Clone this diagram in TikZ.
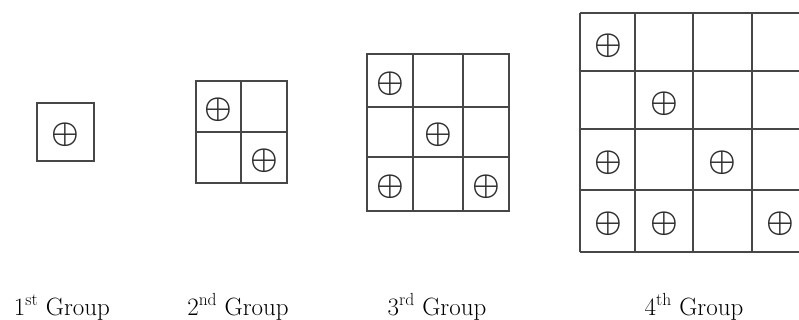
\documentclass[tikz,border=0pt]{standalone}
\usepackage{fontspec}
\usepackage{graphicx}
\begin{document}
\begin{tikzpicture}[x=1pt,y=-1pt,
  gridline/.style={draw=black!72,line width=1.1pt},
  opl/.style={inner sep=0pt,text=black!82},
  grouplabel/.style={anchor=base,inner sep=0pt,font=\fontsize{25}{30}\selectfont}]
\useasboundingbox (0,0) rectangle (799,320);
\newcommand{\opsym}{\scalebox{3.1}{\boldmath$\oplus$}}
% Group 1
\draw[gridline] (37,103) rectangle (94,161);
\node[opl] (g1a) at (65.5,135) {\opsym};
% Group 2
\draw[gridline] (196,81) rectangle (287,183);
\draw[gridline] (241,81) -- (241,183);
\draw[gridline] (196,132) -- (287,132);
\node[opl] (g2a) at (218.5,109.5) {\opsym};
\node[opl] (g2b) at (264,160.5) {\opsym};
% Group 3
\draw[gridline] (367,54) rectangle (509,211);
\foreach \x in {413,463} \draw[gridline] (\x,54) -- (\x,211);
\foreach \y in {107,157} \draw[gridline] (367,\y) -- (509,\y);
\node[opl] (g3a) at (390,83.5) {\opsym};
\node[opl] (g3b) at (438,135) {\opsym};
\node[opl] (g3c) at (390,187) {\opsym};
\node[opl] (g3d) at (486,187) {\opsym};
% Group 4
\foreach \y in {13,71,129,190,252} \draw[gridline] (580,\y) -- (799,\y);
\foreach \x in {580,635,693,752} \draw[gridline] (\x,13) -- (\x,252);
\node[opl] (g4a) at (608,45.5) {\opsym};
\node[opl] (g4b) at (664,103.5) {\opsym};
\node[opl] (g4c) at (608,162.5) {\opsym};
\node[opl] (g4d) at (722,162.5) {\opsym};
\node[opl] (g4e) at (608,224) {\opsym};
\node[opl] (g4f) at (664,224) {\opsym};
\node[opl] (g4g) at (780,224) {\opsym};
% Labels
\node[grouplabel] (l1) at (62,315) {1\textsuperscript{st} Group};
\node[grouplabel] (l2) at (238,315) {2\textsuperscript{nd} Group};
\node[grouplabel] (l3) at (437,315) {3\textsuperscript{rd} Group};
\node[grouplabel] (l4) at (694,315) {4\textsuperscript{th} Group};
\end{tikzpicture}
\end{document}
